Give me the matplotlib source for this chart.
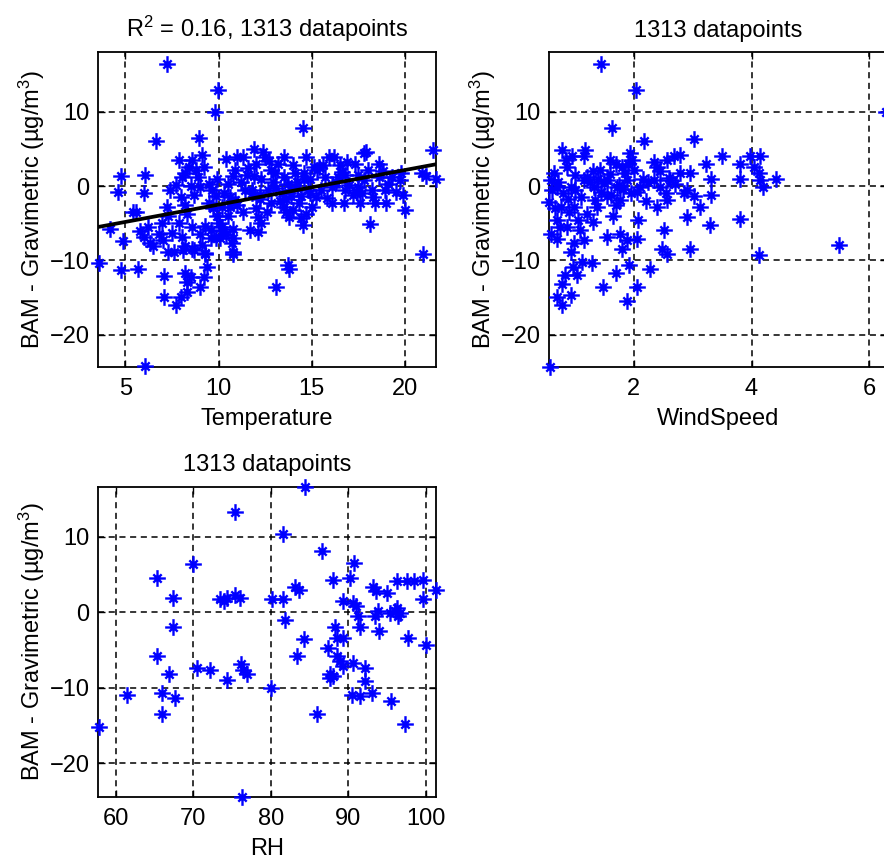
import matplotlib
matplotlib.use("Agg")
import matplotlib.pyplot as plt
import numpy as np
from matplotlib.path import Path

# ── Data: BAM minus gravimetric PM difference vs. met variables ──
temp_c = [
    7.24, 9.95, 9.83, 14.5, 6.67, 8.94,
    21.5, 21.65, 21.1, 20.9, 20.95, 18.1, 20.0, 19.9, 19.7, 17.9, 11.9, 10.4,
    13.1, 13.7, 13.8, 3.57, 4.75, 5.7, 6.08, 4.2, 4.9, 4.75, 4.6, 6.07, 6.02, 5.4, 5.55,
    7.1, 7.1, 7.7, 8.0, 8.3, 8.2, 8.5, 8.3, 9.0, 9.2, 9.4, 9.3, 9.1, 7.3, 8.1, 8.6,
    10.1, 10.8, 10.8, 10.7, 11.7, 12.1, 12.1,
    7.87, 8.58, 9.12, 8.4, 8.8, 8.05, 8.2, 8.9, 9.2, 11.3, 7.4, 7.24, 8.2, 8.3,
    9.66, 9.84, 9.48, 10.2, 10.6, 10.9, 11.8,
    5.8, 6.0, 6.34, 6.5, 6.97, 7.5, 7.87, 8.05, 7.6, 8.2, 8.67, 9.3, 9.57, 10.0,
    10.2, 9.84, 10.8, 9.3,
    13.5, 14.7, 15.9, 16.2, 17.8, 18.6, 17.3, 12.5, 12.8, 13.5, 14.1, 14.6, 15.3,
    15.7, 16.4, 16.8, 17.5, 17.8, 18.6, 19.3, 19.8, 12.65, 13.4, 13.9, 14.4, 14.8,
    15.5, 16.1, 16.8, 17.5, 18.2, 18.9, 12.8, 13.5, 14.3, 15.0, 16.1, 16.7, 17.6,
    18.4, 19.0, 13.8, 14.5, 14.7,
    11.0, 11.5, 11.2, 10.5, 11.8, 12.2, 11.0, 10.5, 11.3, 12.0, 10.2, 12.3, 12.0,
    12.4, 10.8,
    12.9, 13.2, 13.1, 13.7, 14.0, 14.2, 13.3, 14.0, 14.4, 13.6, 14.9, 15.2, 15.6,
    16.5, 17.0, 17.2, 18.0, 18.3, 19.1, 19.5, 12.3, 12.6, 11.6, 10.8, 10.3, 9.9,
    9.5, 9.9, 9.6, 10.4, 8.7, 8.0, 7.7, 8.5, 9.0, 8.6, 9.0, 7.0, 6.2, 6.8, 7.3,
    13.0, 13.9, 14.6, 15.1, 15.8, 16.3, 16.9, 17.7, 18.8, 12.2, 11.4, 10.6, 9.7,
    14.2, 15.4, 13.6, 14.9, 16.6, 17.4, 12.7, 11.9, 10.9,
]
temp_bias = [
    16.4, 12.9, 10.0, 7.8, 6.1, 6.4,
    4.8, 0.9, 1.3, 1.7, -9.1, -5.1, -3.2, -1.2, 0.8, 4.6, 5.0, 3.6,
    -13.6, -10.6, -11.2, -10.3, -11.3, -11.1, -24.2, -5.8, -7.4, 1.3, -0.8, 1.5, -1.0, -3.5, -3.5,
    -12.1, -14.9, -16.0, -14.9, -14.2, -11.7, -12.2, -12.9, -13.6, -12.2, -10.9, -9.1, -7.9, -8.8, -8.6, -8.4,
    -7.0, -7.0, -9.1, -7.7, -5.9, -6.2, -4.1,
    3.5, 3.5, 4.1, 2.6, 2.1, 1.2, 1.7, 1.2, 2.6, 3.9, -0.5, -2.8, -2.5, -3.7,
    -0.5, -1.4, -2.3, -2.8, -2.8, -1.9, -0.5,
    -6.1, -6.8, -7.7, -8.1, -5.0, -6.3, -5.0, -6.8, -8.8, -8.1, -8.6, -5.4, -7.0, -5.0,
    -6.1, -7.0, -8.8, -9.0,
    3.9, 3.9, 3.9, 3.9, 4.4, 3.0, 3.0, 3.9, 2.1, 1.2, 1.7, 1.7, 2.1,
    1.2, 1.2, 1.5, 1.5, 0.8, 1.2, 1.2, 1.7, -0.5, -1.0, -1.4, -1.4, -0.5,
    -0.5, -0.1, -0.5, -0.1, -0.5, -0.5, -2.3, -2.8, -2.3, -2.8, -2.3, -2.3, -2.3,
    -2.3, -2.3, -4.1, -5.2, -3.7,
    3.9, 1.5, 0.5, 0.3, -0.9, -1.8, -2.5, -4.0, -3.5, -3.0, -5.5, -5.0, 3.0,
    4.5, -5.8,
    0.5, 3.0, -0.3, 0.3, 2.8, 0.5, -2.0, -3.2, -4.3, -3.5, 1.0, -1.5, 2.8,
    2.8, 0.2, -1.2, 2.2, -1.5, 0.3, -0.8, 1.0, -3.5, 2.4, 1.3, -1.0, 1.0,
    0.3, -4.0, -5.9, -6.5, -1.2, -1.5, 0.2, 0.0, -0.2, -5.5, -6.5, -7.3, -5.5, -6.5, -4.0,
    1.8, -0.6, 0.9, 2.6, -1.6, 0.6, 3.2, -0.9, 2.0, -1.2, -0.5, -1.5, -3.0,
    -0.3, 2.5, -1.8, -1.0, 1.9, -0.8, 3.4, 1.4, 2.2,
]

wind_ms = [
    1.45, 2.04, 1.63, 2.18, 3.03, 3.49, 6.28, 5.48, 4.12, 3.8, 3.3, 2.96,
    3.97, 4.14, 3.81, 4.04, 4.12, 4.42, 3.81, 4.15, 4.2, 3.31, 3.22, 3.31, 3.12, 2.9,
    2.79, 2.68, 2.57, 2.4, 2.34, 2.45, 2.62, 2.79, 2.96, 2.85, 3.02, 2.57, 2.4,
    2.51, 2.48, 2.57, 2.28, 2.06, 1.89, 1.92, 1.69, 1.48, 1.29, 1.8, 1.89, 1.77,
    2.06, 1.55, 2.08, 1.94, 1.97, 1.8, 1.6, 1.43, 1.15, 1.32, 1.55, 1.72, 1.89,
    2.11, 1.55, 1.77, 1.38, 1.21, 1.15, 0.95, 0.78, 1.18, 0.87, 0.59, 0.7, 0.93,
    0.56, 0.76, 0.98, 0.7, 0.87, 1.09, 0.7, 0.98, 1.15, 0.93, 0.96, 1.04, 0.84,
    0.78, 0.93, 0.7, 0.78, 0.57, 1.12,
    0.65, 0.8, 1.0, 1.1, 1.25, 1.3, 1.45, 1.6, 1.7, 1.85, 1.95, 2.0, 2.15, 2.2,
    1.05, 0.75, 0.6, 0.9, 1.3, 1.65, 2.45, 2.55, 2.7, 2.9, 2.35, 0.62, 0.85, 1.7, 1.9,
    1.4, 1.75, 2.05, 0.72, 1.0, 1.2, 1.5, 1.82, 2.25, 2.6, 0.66, 0.88, 1.35, 1.62,
]
wind_bias = [
    16.4, 12.9, 7.8, 6.1, 6.3, 4.0, 9.9, -7.9, -9.2, -4.4, -5.3, -8.4,
    4.0, 4.0, 3.0, 2.6, 1.7, 0.9, 0.9, 0.8, -0.1, 1.0, 3.0, -1.2, -2.8, -4.1,
    4.2, 4.0, 3.5, 2.6, 0.8, -0.1, 0.8, 1.7, 1.7, -1.0, -1.4, -1.9, -2.8,
    -5.9, -8.4, -9.1, -11.1, -13.6, -15.4, -10.6, -11.7, -13.6, -10.4, -8.4, -7.3, -6.4,
    -7.1, -6.8, -4.6, 4.4, 3.5, 2.6, 3.5, 2.2, 0.8, -0.1, 0.8, -0.1, 0.8,
    -0.1, -1.4, -1.9, -2.8, -3.7, 4.0, 4.0, 4.8, 4.8, 2.6, 0.8, -0.1, -0.1,
    -2.1, -2.8, -2.8, -4.6, -5.5, -5.9, -7.1, -7.7, -7.3, -8.8, -10.9, -12.0, -12.0,
    -13.1, -14.7, -14.9, -16.0, -24.3, -10.2,
    1.8, -1.0, 1.5, -1.5, 0.5, 2.0, -0.8, 1.6, -2.5, 1.8, -1.0, 2.2, 1.0, -2.0,
    -4.5, -5.5, -6.5, -3.5, -4.8, -4.0, 2.0, -1.0, 0.3, -0.5, 3.2, -0.5, 3.5, 3.0, 3.0,
    1.0, 0.2, -0.8, 0.5, -0.6, 1.2, 0.4, -0.4, 0.6, 1.1, -3.0, -1.8, -1.9, -1.2,
]

rh_pct = [
    84.4, 75.4, 81.6, 86.6, 70.0, 90.7, 65.3, 88.0, 90.2, 93.2, 93.6, 95.0, 96.2,
    97.5, 98.5, 99.6, 101.3, 99.6, 83.1, 83.6, 67.4, 73.4, 73.9, 74.3, 75.4, 76.0,
    80.1, 81.6, 89.3, 90.6, 91.0, 81.8, 67.4, 91.2, 91.5, 93.4, 93.8, 94.0, 95.3,
    96.0, 96.2, 96.6, 96.4, 97.7, 100.0, 84.3, 88.2, 88.5, 89.3, 87.4, 88.5, 88.9,
    89.3, 90.6, 92.1, 87.6, 88.0, 87.6, 92.1, 93.0, 90.4, 91.5, 95.5, 97.3, 85.9,
    83.3, 65.3, 70.5, 72.1, 76.1, 76.4, 76.9, 74.3, 66.8, 80.0, 65.9, 67.6, 61.5,
    65.9, 57.8, 76.3,
]
rh_bias = [
    16.6, 13.2, 10.3, 8.1, 6.4, 6.5, 4.5, 4.3, 4.5, 3.4, 2.8, 2.6, 4.1,
    4.1, 4.1, 4.3, 3.0, 1.7, 3.4, 3.0, 1.9, 1.7, 1.5, 1.9, 2.3, 1.9,
    1.7, 1.7, 1.5, 1.2, 0.8, -1.0, -1.9, -0.5, -1.9, -0.5, 0.1, -2.5, -0.1,
    0.1, 0.6, -0.1, -0.5, -3.4, -4.4, -3.6, -1.9, -3.4, -3.4, -4.7, -5.8, -6.5,
    -7.1, -6.7, -7.4, -8.2, -8.5, -8.7, -9.1, -10.7, -10.9, -11.1, -11.8, -14.8, -13.5,
    -5.8, -5.8, -7.4, -7.7, -6.9, -7.6, -8.2, -8.9, -8.2, -10.0, -10.7, -11.3, -10.9,
    -13.4, -15.2, -24.4,
]

# linear fit of bias against temperature
FIT_SLOPE = 0.465
FIT_INTERCEPT = -7.15
FIT_R2 = 0.16
N_POINTS = 1313

YLABEL = "BAM - Gravimetric (µg/m$^{3}$)"

# ── Style ──
BLUE = "#0000ff"
FONT = "Liberation Sans"
FS = 17

plt.rcParams["font.family"] = FONT
plt.rcParams["mathtext.fontset"] = "custom"
plt.rcParams["mathtext.rm"] = FONT
plt.rcParams["mathtext.it"] = FONT

# asterisk: long "+" arms with short diagonal arms
d = 0.5
ASTERISK = Path(
    [(-1, 0), (1, 0), (0, -1), (0, 1), (-d, -d), (d, d), (-d, d), (d, -d)],
    [Path.MOVETO, Path.LINETO] * 4,
)


def style_ax(ax, xlim, ylim, xticks, title, xlabel):
    ax.set_xlim(*xlim)
    ax.set_ylim(*ylim)
    ax.set_xticks(xticks)
    ax.set_yticks([-20, -10, 0, 10])
    ax.grid(True, color="black", linestyle=(0, (4, 3)), linewidth=1.1)
    ax.set_axisbelow(True)
    ax.tick_params(direction="in", length=5, width=1.0, top=True, right=True,
                   labelsize=FS, colors="black", pad=6)
    ax.tick_params(axis="x", pad=8)
    for s in ax.spines.values():
        s.set_linewidth(1.3)
        s.set_color("black")
    ax.set_title(title, fontsize=FS, pad=11)
    ax.set_xlabel(xlabel, fontsize=FS, labelpad=6)
    ax.set_ylabel(YLABEL, fontsize=FS, labelpad=2)


def scatter(ax, x, y):
    ax.plot(x, y, linestyle="none", marker=ASTERISK, markersize=12,
            markeredgewidth=1.7, color=BLUE, clip_on=False, zorder=3)


fig = plt.figure(figsize=(8.84, 8.59), dpi=100)
fig.patch.set_facecolor("white")

ax1 = fig.add_axes([0.1109, 0.5728, 0.3824, 0.3667])
ax2 = fig.add_axes([0.6210, 0.5728, 0.3824, 0.3667])
ax3 = fig.add_axes([0.1109, 0.0725, 0.3824, 0.3609])

# Temperature
scatter(ax1, temp_c, temp_bias)
xfit = np.array([min(temp_c), max(temp_c)])
ax1.plot(xfit, FIT_INTERCEPT + FIT_SLOPE * xfit, color="black", linewidth=2.7,
         zorder=4)
style_ax(ax1, (min(temp_c) - 0.03, max(temp_c) + 0.01), (-24.3, 18.0),
         [5, 10, 15, 20],
         f"R$^{{2}}$ = {FIT_R2:.2f}, {N_POINTS} datapoints", "Temperature")

# Wind speed
scatter(ax2, wind_ms, wind_bias)
style_ax(ax2, (min(wind_ms), 6.3), (-24.3, 18.0), [2, 4, 6],
         f"{N_POINTS} datapoints", "WindSpeed")

# Relative humidity
scatter(ax3, rh_pct, rh_bias)
style_ax(ax3, (57.7, 101.3), (-24.4, 16.6), [60, 70, 80, 90, 100],
         f"{N_POINTS} datapoints", "RH")

fig.savefig("out.png", dpi=100, facecolor="white")
